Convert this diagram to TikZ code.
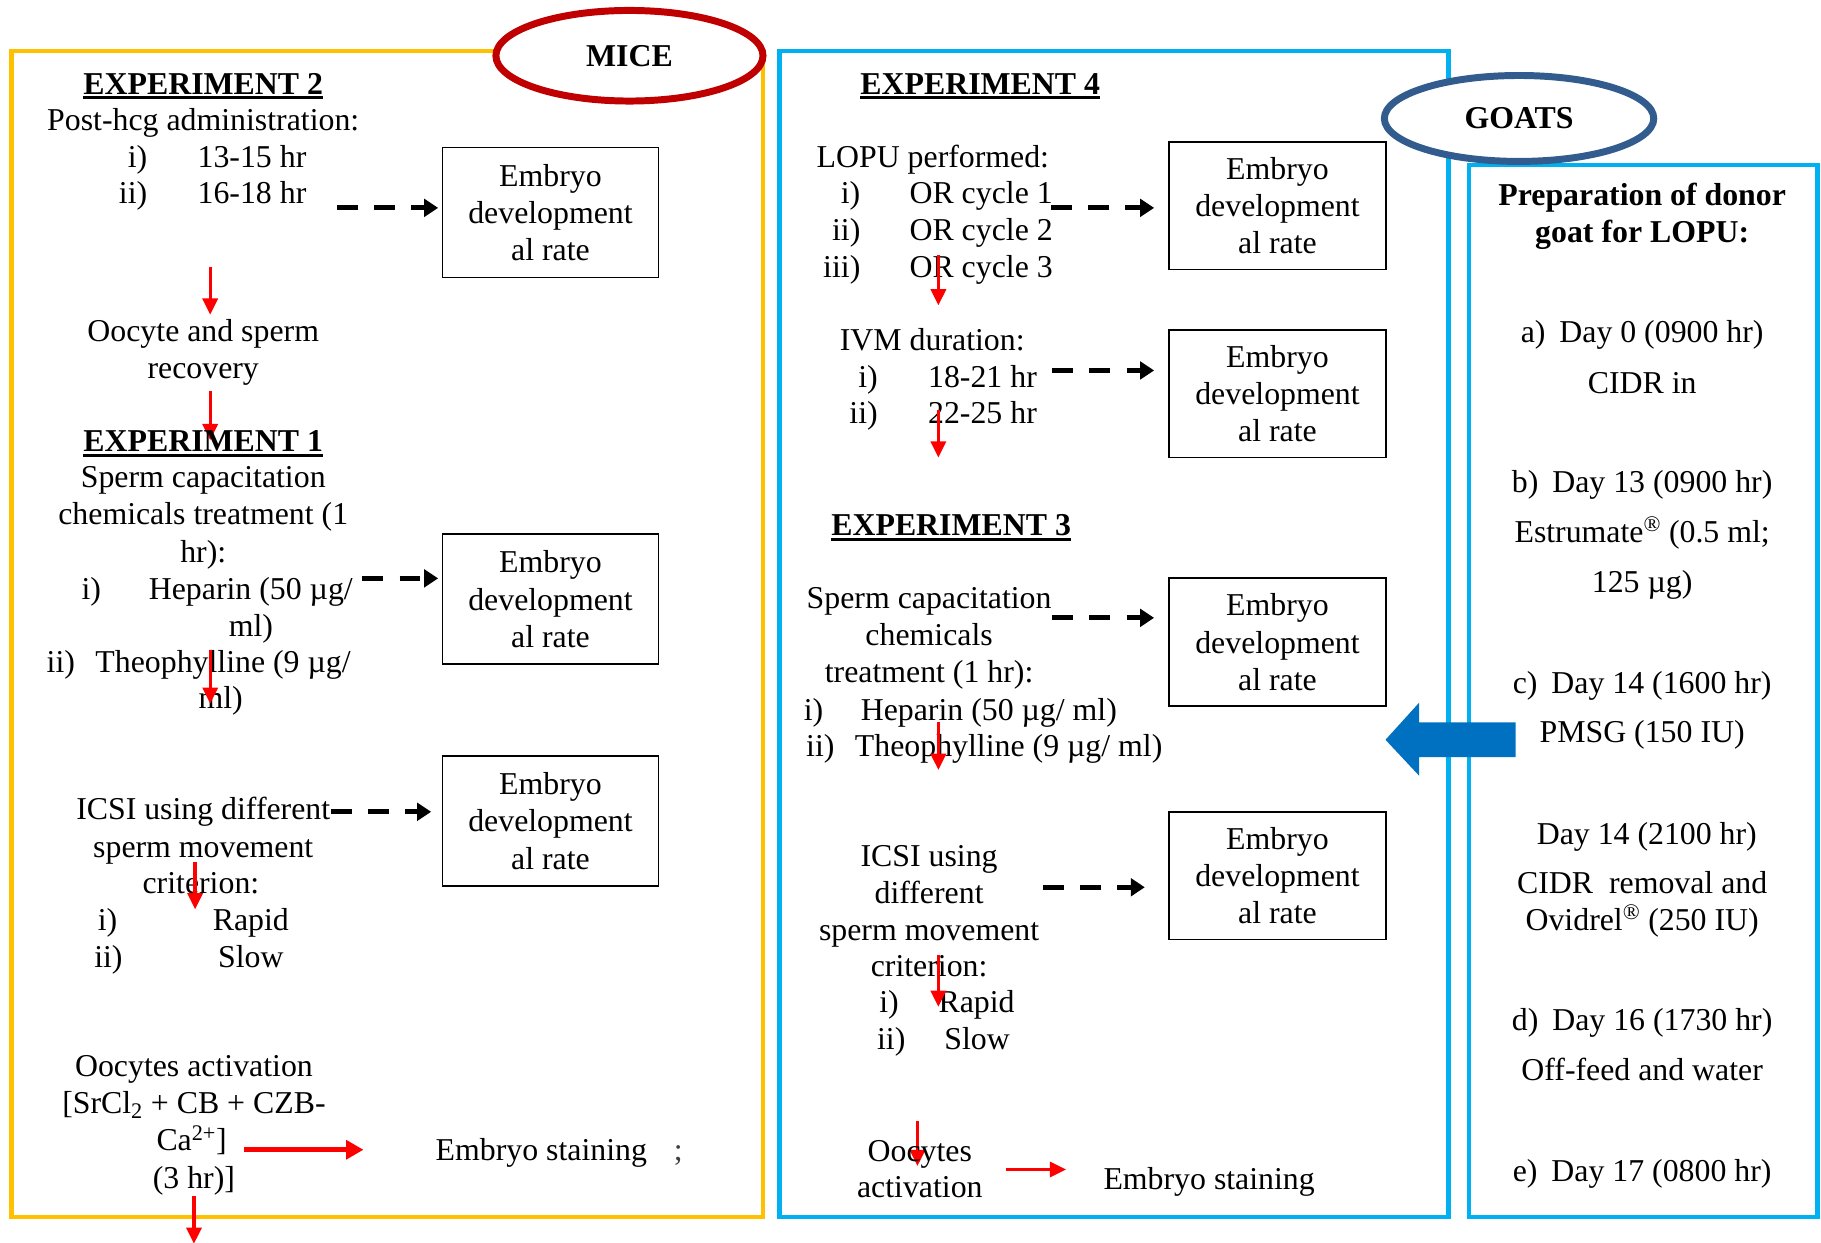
\documentclass[tikz,border=0pt]{standalone}
\usepackage{fontspec}
\setmainfont{Liberation Serif}
\usetikzlibrary{arrows.meta,shapes.geometric}
\definecolor{miceyellow}{HTML}{FFC000}
\definecolor{panelblue}{HTML}{00B0F0}
\definecolor{micered}{HTML}{C00000}
\definecolor{goatblue}{HTML}{335C8E}
\definecolor{arrowblue}{HTML}{0070C0}
\newcommand{\myul}[1]{\leavevmode\setbox0=\hbox{#1}\rlap{\rule[-4.5pt]{\wd0}{2.6pt}}\box0}
\begin{document}
\begin{tikzpicture}[x=1pt,y=-1pt,
  t/.style={font=\fontsize{27.4}{32}\selectfont, inner sep=0pt, anchor=base},
  tw/.style={t, anchor=base west},
  te/.style={t, anchor=base east},
  tb/.style={t, font=\fontsize{27.4}{32}\selectfont\bfseries},
  ebox/.style={draw, line width=1.5pt, minimum width=186pt, minimum height=112pt, align=center, font=\fontsize{27.4}{32}\selectfont, inner sep=0pt},
  redarr/.style={draw=red, line width=2.8pt, -{Triangle[length=14pt,width=13pt]}},
  redarrb/.style={draw=red, line width=4pt, -{Triangle[length=15pt,width=16pt]}},
  dasharr/.style={line width=4.5pt, dash pattern=on 18pt off 14pt, -{Triangle[length=12pt,width=15pt]}},
  panel/.style={line width=4pt},
  oval/.style={ellipse, fill=white, line width=6pt, inner sep=0pt, font=\fontsize{27.4}{32}\selectfont\bfseries}
]
\useasboundingbox (0,0) rectangle (1568,1070);

% panels
\draw[panel, draw=miceyellow] (10,44) rectangle (657,1048);
\draw[panel, draw=panelblue] (671,44) rectangle (1247,1048);
\draw[panel, draw=panelblue] (1265,142) rectangle (1565,1048);

\node[oval, draw=micered, minimum width=230pt, minimum height=78pt] (mice) at (542,48) {MICE};
\node[oval, draw=goatblue, minimum width=232pt, minimum height=74pt] (goats) at (1308,102) {GOATS};

% ---------------- left panel (MICE) ----------------
\node[tb] (exp2) at (175,81) {\myul{EXPERIMENT 2}};
\node[t] (posthcg) at (175,112) {Post-hcg administration:};
\node[te] (l2a) at (127,144) {i)};
\node[tw] (h2a) at (170,144) {13-15 hr};
\node[te] (l2b) at (127,175) {ii)};
\node[tw] (h2b) at (170,175) {16-18 hr};
\node[ebox] (box1) at (474,183) {Embryo\\development\\al rate};
\coordinate (d1) at (290,179);
\draw[dasharr, shorten >=3pt] (d1) -- (d1 -| box1.west);

\coordinate (r1s) at (181,230); \coordinate (r1e) at (181,271);
\draw[redarr] (r1s) -- (r1e);
\node[t] (rec1) at (175,294) {Oocyte and sperm};
\node[t] (rec2) at (175,326) {recovery};
\coordinate (r2s) at (181,337); \coordinate (r2e) at (181,379);
\draw[redarr] (r2s) -- (r2e);

\node[tb] (exp1) at (175,389) {\myul{EXPERIMENT 1}};
\node[t] (sc1) at (175,420) {Sperm capacitation};
\node[t] (sc2) at (175,452) {chemicals treatment (1};
\node[t] (sc3) at (175,484) {hr):};
\node[tw] (l1a) at (70,516) {i)};
\node[tw] (hep1) at (128,516) {Heparin (50 µg/};
\node[t] (ml1) at (216,548) {ml)};
\node[tw] (l1b) at (40,579) {ii)};
\node[tw] (the1) at (82,579) {Theophylline (9 µg/};
\node[t] (ml2) at (190,610) {ml)};
\node[ebox] (box2) at (474,516) {Embryo\\development\\al rate};
\coordinate (d2) at (312,498);
\draw[dasharr, shorten >=3pt] (d2) -- (d2 -| box2.west);
\coordinate (r3s) at (181,560); \coordinate (r3e) at (181,606);
\draw[redarr] (r3s) -- (r3e);

\node[t] (ic1) at (175,706) {ICSI using different};
\node[t] (ic2) at (175,738) {sperm movement};
\node[t] (ic3) at (173,769) {criterion:};
\node[ebox] (box3) at (474,707) {Embryo\\development\\al rate};
\coordinate (d3) at (285,699);
\draw[dasharr, shorten >=9pt] (d3) -- (d3 -| box3.west);
\coordinate (r4s) at (168,742); \coordinate (r4e) at (168,783);
\draw[redarr] (r4s) -- (r4e);
\node[tw] (l3a) at (84,801) {i)};
\node[t] (rap1) at (216,801) {Rapid};
\node[tw] (l3b) at (81,833) {ii)};
\node[t] (slo1) at (216,833) {Slow};

\node[t] (oa1) at (167,927) {Oocytes activation};
\node[t] (oa2) at (167,959) {[SrCl\textsubscript{2} + CB + CZB-};
\node[t] (oa3) at (165,991) {Ca\textsuperscript{2+}]};
\node[t] (oa4) at (167,1023) {(3 hr)]};
\node[tw] (stain1) at (375,999) {Embryo staining};
\node[tw] (stray) at (580,999) {\textcolor{darkgray}{;}};
\coordinate (r5s) at (210,990); \coordinate (r5e) at (313,990);
\draw[redarrb] (r5s) -- (r5e);
\coordinate (r6s) at (167,1030); \coordinate (r6e) at (167,1071);
\draw[redarr] (r6s) -- (r6e);

% ---------------- middle panel ----------------
\node[tb] (exp4) at (844,81) {\myul{EXPERIMENT 4}};
\node[tw] (lopu) at (703,144) {LOPU performed:};
\node[te] (l4a) at (741,175) {i)};
\node[tw] (or1) at (783,175) {OR cycle 1};
\node[te] (l4b) at (741,207) {ii)};
\node[tw] (or2) at (783,207) {OR cycle 2};
\node[te] (l4c) at (741,239) {iii)};
\node[tw] (or3) at (783,239) {OR cycle 3};
\node[ebox, minimum width=187pt, minimum height=110pt] (box4) at (1100,177) {Embryo\\development\\al rate};
\coordinate (d4) at (905,179);
\draw[dasharr, shorten >=12pt] (d4) -- (d4 -| box4.west);
\coordinate (r7s) at (808,220); \coordinate (r7e) at (808,263);
\draw[redarr] (r7s) -- (r7e);

\node[tw] (ivm) at (723,302) {IVM duration:};
\node[te] (l5a) at (756,334) {i)};
\node[tw] (iv1) at (799,334) {18-21 hr};
\node[te] (l5b) at (756,365) {ii)};
\node[tw] (iv2) at (799,365) {22-25 hr};
\node[ebox, minimum width=187pt, minimum height=110pt] (box5) at (1100,339) {Embryo\\development\\al rate};
\coordinate (d5) at (906,319);
\draw[dasharr, shorten >=12pt] (d5) -- (d5 -| box5.west);
\coordinate (r8s) at (808,353); \coordinate (r8e) at (808,394);
\draw[redarr] (r8s) -- (r8e);

\node[tb] (exp3) at (819,461) {\myul{EXPERIMENT 3}};
\node[t] (sd1) at (800,524) {Sperm capacitation};
\node[t] (sd2) at (800,556) {chemicals};
\node[t] (sd3) at (800,588) {treatment (1 hr):};
\node[tw] (l6a) at (692,620) {i)};
\node[tw] (hep2) at (741,620) {Heparin (50 µg/ ml)};
\node[tw] (l6b) at (694,651) {ii)};
\node[tw] (the2) at (736,651) {Theophylline (9 µg/ ml)};
\node[ebox, minimum width=187pt, minimum height=110pt] (box6) at (1100,553) {Embryo\\development\\al rate};
\coordinate (d6) at (906,532);
\draw[dasharr, shorten >=12pt] (d6) -- (d6 -| box6.west);
\coordinate (r9s) at (808,622); \coordinate (r9e) at (808,663);
\draw[redarr] (r9s) -- (r9e);

\node[t] (ie1) at (800,746) {ICSI using};
\node[t] (ie2) at (800,778) {different};
\node[t] (ie3) at (800,810) {sperm movement};
\node[t] (ie4) at (800,841) {criterion:};
\node[tw] (l7a) at (757,872) {i)};
\node[tw] (rap2) at (808,872) {Rapid};
\node[tw] (l7b) at (755,904) {ii)};
\node[tw] (slo2) at (813,904) {Slow};
\node[ebox, minimum width=187pt, minimum height=110pt] (box7) at (1100,754) {Embryo\\development\\al rate};
\coordinate (d7) at (898,764);
\draw[dasharr, shorten >=20pt] (d7) -- (d7 -| box7.west);
\coordinate (r10s) at (808,822); \coordinate (r10e) at (808,867);
\draw[redarr] (r10s) -- (r10e);

\coordinate (r11s) at (790,965); \coordinate (r11e) at (790,1004);
\draw[redarr] (r11s) -- (r11e);
\node[t] (ob1) at (792,1000) {Oocytes};
\node[t] (ob2) at (792,1031) {activation};
\node[tw] (stain2) at (950,1024) {Embryo staining};
\coordinate (r12s) at (866,1007); \coordinate (r12e) at (918,1007);
\draw[redarr] (r12s) -- (r12e);

% ---------------- right panel (GOATS) ----------------
\node[tb] (prep1) at (1414,177) {Preparation of donor};
\node[tb] (prep2) at (1414,209) {goat for LOPU:};
\node[t] (ga1) at (1414,295) {a)\hspace{12pt}Day 0 (0900 hr)};
\node[t] (ga2) at (1414,339) {CIDR in};
\node[t] (gb1) at (1414,424) {b)\hspace{12pt}Day 13 (0900 hr)};
\node[t] (gb2) at (1414,467) {Estrumate\textsuperscript{®} (0.5 ml;};
\node[t] (gb3) at (1414,510) {125 µg)};
\node[t] (gc1) at (1414,597) {c)\hspace{12pt}Day 14 (1600 hr)};
\node[t] (gc2) at (1414,639) {PMSG (150 IU)};
\node[t] (gx1) at (1418,727) {Day 14 (2100 hr)};
\node[t] (gx2) at (1414,769) {CIDR\ \ removal and};
\node[t] (gx3) at (1414,801) {Ovidrel\textsuperscript{®} (250 IU)};
\node[t] (gd1) at (1414,887) {d)\hspace{12pt}Day 16 (1730 hr)};
\node[t] (gd2) at (1414,930) {Off-feed and water};
\node[t] (ge1) at (1414,1017) {e)\hspace{12pt}Day 17 (0800 hr)};

% big blue arrow
\fill[arrowblue] (1305,622) -- (1222,622) -- (1222,605) -- (1193,637) -- (1222,668) -- (1222,652) -- (1305,652) -- cycle;
\end{tikzpicture}
\end{document}
